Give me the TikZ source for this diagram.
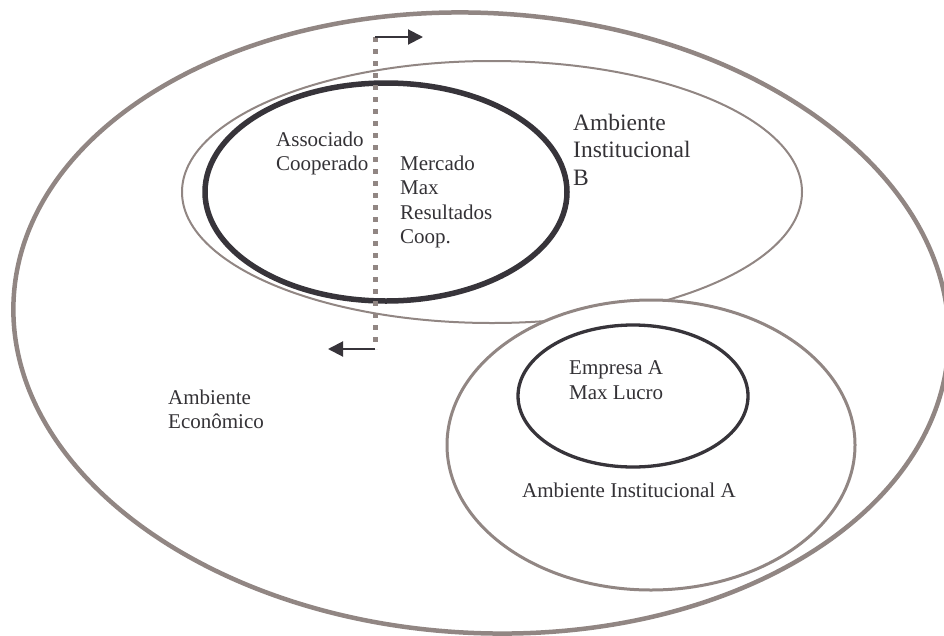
\documentclass[tikz,border=0pt]{standalone}
\usepackage{fontspec}
\setmainfont{Liberation Serif}
\usetikzlibrary{arrows.meta}
\definecolor{rimgray}{RGB}{145,134,131}
\definecolor{inkdark}{RGB}{55,52,58}
\definecolor{txtgray}{RGB}{52,50,54}
\tikzset{
  lbl/.style={anchor=north west,inner sep=0pt,align=left,text=txtgray,font=\fontsize{21}{24.5}\selectfont},
  biglbl/.style={lbl,font=\fontsize{23.5}{27.5}\selectfont},
  crossarrow/.style={inkdark,line width=2pt,-{Triangle[length=15pt,width=15pt]}}
}
\begin{document}
\begin{tikzpicture}[x=1pt,y=-1pt]
\useasboundingbox (0,0) rectangle (944,635);

%ambiente institucional B
\draw[rimgray,line width=2pt] (492,192) ellipse [x radius=310,y radius=131];

%ambiente institucional A (covers B)
\filldraw[fill=white,draw=rimgray,line width=3pt] (651,445) ellipse [x radius=204,y radius=145];

%ambiente economico
\draw[rimgray,line width=4.5pt,rotate around={-3:(481,323)}] (481,323) ellipse [x radius=468,y radius=310];

%cooperativa
\draw[inkdark,line width=5.5pt] (386,192) ellipse [x radius=181,y radius=109];

%empresa
\draw[inkdark,line width=3.3pt] (633,396) ellipse [x radius=115,y radius=71];

%crossing
\coordinate (up) at (375,37);
\coordinate (upend) at (423,37);
\coordinate (dn) at (375,349);
\coordinate (dnend) at (328,349);
\draw[rimgray,line width=5pt,dash pattern=on 5pt off 7pt] (up) -- (dn);
\draw[crossarrow] (up) -- (upend);
\draw[crossarrow] (dn) -- (dnend);

%text
\node[lbl] (assoc) at (276,131.5) {Associado\\Cooperado};
\node[lbl] (merc) at (400,155.5) {Mercado\\Max\\Resultados\\Coop.};
\node[biglbl] (instb) at (573,113.8) {Ambiente\\Institucional\\B};
\node[lbl] (econ) at (168,389.5) {Ambiente\\Econômico};
\node[lbl] (firm) at (569,360.5) {Empresa A\\Max Lucro};
\node[lbl] (insta) at (522,483) {Ambiente Institucional A};
\end{tikzpicture}
\end{document}
